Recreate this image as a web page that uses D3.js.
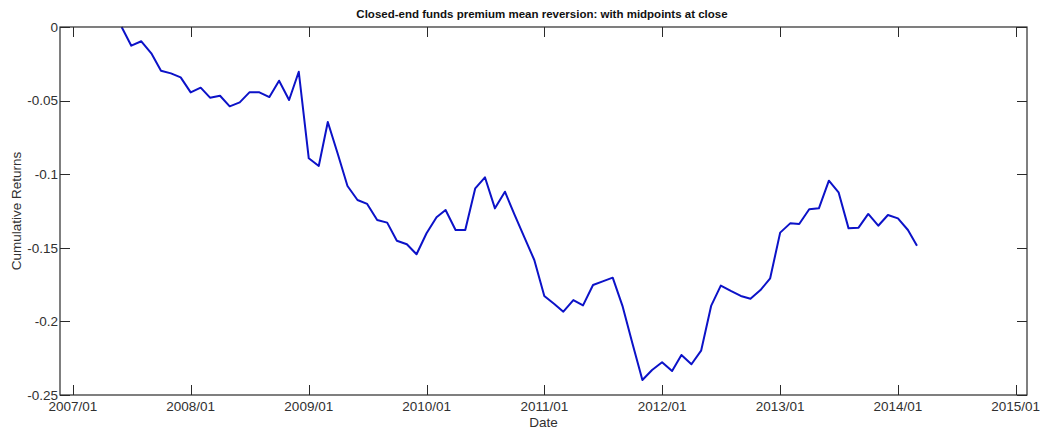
<!DOCTYPE html>
<html><head><meta charset="utf-8">
<script src="https://cdn.jsdelivr.net/npm/d3@7"></script>
<style>body{margin:0;background:#fff;} svg{display:block;}</style>
</head><body>
<svg id="c" width="1041" height="429"></svg>
<script>
const months = ["2007-06","2007-07","2007-08","2007-09","2007-10","2007-11","2007-12",
"2008-01","2008-02","2008-03","2008-04","2008-05","2008-06","2008-07","2008-08","2008-09","2008-10","2008-11","2008-12",
"2009-01","2009-02","2009-03","2009-04","2009-05","2009-06","2009-07","2009-08","2009-09","2009-10","2009-11","2009-12",
"2010-01","2010-02","2010-03","2010-04","2010-05","2010-06","2010-07","2010-08","2010-09","2010-10","2010-11","2010-12",
"2011-01","2011-02","2011-03","2011-04","2011-05","2011-06","2011-07","2011-08","2011-09","2011-10","2011-11","2011-12",
"2012-01","2012-02","2012-03","2012-04","2012-05","2012-06","2012-07","2012-08","2012-09","2012-10","2012-11","2012-12",
"2013-01","2013-02","2013-03","2013-04","2013-05","2013-06","2013-07","2013-08","2013-09","2013-10","2013-11","2013-12",
"2014-01","2014-02","2014-03"];
const cumReturns = [0,-0.0127,-0.0097,-0.0179,-0.0297,-0.0315,-0.0342,
-0.0444,-0.0412,-0.0480,-0.0467,-0.0539,-0.0512,-0.0444,-0.0444,-0.0476,-0.0365,-0.0496,-0.0304,
-0.0892,-0.0944,-0.0645,-0.0863,-0.1080,-0.1175,-0.1202,-0.1311,-0.1329,-0.1452,-0.1476,-0.1544,
-0.1401,-0.1293,-0.1243,-0.1379,-0.1379,-0.1096,-0.1021,-0.1232,-0.1119,-0.1277,-0.1433,-0.1583,
-0.1827,-0.1882,-0.1934,-0.1855,-0.1891,-0.1753,-0.1728,-0.1703,-0.1900,-0.2149,-0.2398,-0.2330,
-0.2278,-0.2337,-0.2228,-0.2291,-0.2199,-0.1895,-0.1757,-0.1793,-0.1827,-0.1846,-0.1787,-0.1707,
-0.1397,-0.1334,-0.1338,-0.1238,-0.1232,-0.1044,-0.1123,-0.1368,-0.1363,-0.1270,-0.1350,-0.1277,
-0.1300,-0.1379,-0.1486];
const xTickLabels = ["2007/01","2008/01","2009/01","2010/01","2011/01","2012/01","2013/01","2014/01","2015/01"];
const yTicks = [0,-0.05,-0.1,-0.15,-0.2,-0.25];
const yTickLabels = ["0","-0.05","-0.1","-0.15","-0.2","-0.25"];
const titleText = "Closed-end funds premium mean reversion: with midpoints at close";
const xLabel = "Date";
const yLabel = "Cumulative Returns";

const L=60, R=1027, T=27, B=395;
const parseM = d3.timeParse("%Y-%m");
const parseT = d3.timeParse("%Y/%m");
const data = months.map((m,i)=>({d:parseM(m), v:cumReturns[i]}));

const x = d3.scaleTime().domain([new Date(2006,10,22), new Date(2015,1,5)]).range([L,R]);
const y = d3.scaleLinear().domain([-0.25,0]).range([B,T]);

const svg = d3.select("#c");
const font = "'Liberation Sans', Arial, sans-serif";
const axCol = "#2a2a2a", txtCol = "#303030";

// line
svg.append("path").datum(data)
  .attr("fill","none").attr("stroke","#0c12c8").attr("stroke-width",2)
  .attr("stroke-linejoin","round")
  .attr("d", d3.line().x(d=>x(d.d)).y(d=>y(d.v)));

// box
svg.append("rect").attr("x",L).attr("y",T).attr("width",R-L).attr("height",B-T)
  .attr("fill","none").attr("stroke",axCol).attr("stroke-width",1.2);

const xt = xTickLabels.map(s=>parseT(s));
const tl = 10;
const g = svg.append("g").attr("stroke",axCol).attr("stroke-width",1);
xt.forEach(t=>{
  const px = Math.round(x(t))+0.5;
  g.append("line").attr("x1",px).attr("x2",px).attr("y1",B).attr("y2",B-tl);
  g.append("line").attr("x1",px).attr("x2",px).attr("y1",T).attr("y2",T+tl);
});
yTicks.forEach(v=>{
  const py = Math.round(y(v))+0.5;
  g.append("line").attr("x1",L).attr("x2",L+tl).attr("y1",py).attr("y2",py);
  g.append("line").attr("x1",R).attr("x2",R-tl).attr("y1",py).attr("y2",py);
});

svg.selectAll("text.xt").data(xt).enter().append("text")
  .attr("x",d=>x(d)).attr("y",411).attr("text-anchor","middle")
  .attr("font-family",font).attr("font-size","13.5px").attr("fill",txtCol)
  .text((d,i)=>xTickLabels[i]);
svg.selectAll("text.yt").data(yTicks).enter().append("text")
  .attr("x",58).attr("y",d=>y(d)).attr("dy","0.35em").attr("text-anchor","end")
  .attr("font-family",font).attr("font-size","13.5px").attr("fill",txtCol)
  .text((d,i)=>yTickLabels[i]);

svg.append("text").attr("x",(L+R)/2).attr("y",427).attr("text-anchor","middle")
  .attr("font-family",font).attr("font-size","13.5px").attr("fill",txtCol).text(xLabel);
svg.append("text").attr("transform",`translate(21,${(T+B)/2}) rotate(-90)`).attr("text-anchor","middle")
  .attr("font-family",font).attr("font-size","13.5px").attr("fill",txtCol).text(yLabel);
svg.append("text").attr("x",542).attr("y",18).attr("text-anchor","middle")
  .attr("font-family",font).attr("font-size","11.5px").attr("font-weight","bold").attr("fill","#111").text(titleText);
</script>
</body></html>
